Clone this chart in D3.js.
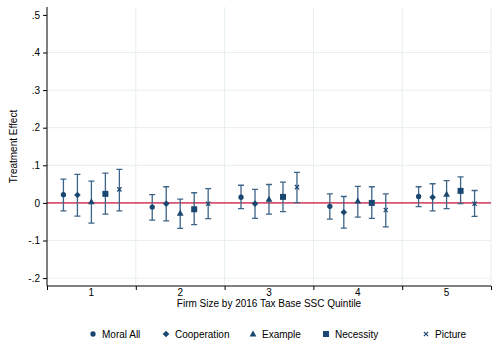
<!DOCTYPE html>
<html>
<head>
<meta charset="utf-8">
<script src="https://cdn.jsdelivr.net/npm/d3@7"></script>
<style>
  html, body { margin: 0; padding: 0; background: #fff; }
  svg { display: block; font-family: "Liberation Sans", Arial, sans-serif; }
</style>
</head>
<body>
<svg id="chart" width="496" height="347"></svg>
<script>
// Quintiles and treatment arms
const quintiles = [1, 2, 3, 4, 5];
const treatments = ["Moral All", "Cooperation", "Example", "Necessity", "Picture"];

// Point estimates, one array per treatment (index = quintile)
const moralAll    = [0.022, -0.011, 0.015, -0.009, 0.017];
const cooperation = [0.021, -0.002, -0.002, -0.025, 0.015];
const example     = [0.003, -0.027, 0.010, 0.005, 0.023];
const necessity   = [0.024, -0.017, 0.016, 0.000, 0.032];
const picture     = [0.036, -0.002, 0.042, -0.019, -0.002];

// Upper confidence bounds
const moralAllHi    = [0.063, 0.022, 0.047, 0.024, 0.043];
const cooperationHi = [0.076, 0.043, 0.036, 0.017, 0.051];
const exampleHi     = [0.058, 0.010, 0.049, 0.044, 0.059];
const necessityHi   = [0.079, 0.027, 0.055, 0.043, 0.069];
const pictureHi     = [0.089, 0.038, 0.081, 0.024, 0.033];

// Lower confidence bounds
const moralAllLo    = [-0.021, -0.046, -0.015, -0.043, -0.010];
const cooperationLo = [-0.035, -0.048, -0.041, -0.067, -0.021];
const exampleLo     = [-0.054, -0.068, -0.030, -0.038, -0.015];
const necessityLo   = [-0.030, -0.058, -0.023, -0.041, -0.002];
const pictureLo     = [-0.021, -0.042, 0.001, -0.064, -0.036];

const yTicks = [0.5, 0.4, 0.3, 0.2, 0.1, 0, -0.1, -0.2];
const yTickLabels = [".5", ".4", ".3", ".2", ".1", "0", "-.1", "-.2"];

const est = [moralAll, cooperation, example, necessity, picture];
const hi  = [moralAllHi, cooperationHi, exampleHi, necessityHi, pictureHi];
const lo  = [moralAllLo, cooperationLo, exampleLo, necessityLo, pictureLo];

const rows = [];
treatments.forEach((t, ti) => {
  quintiles.forEach((q, qi) => {
    rows.push({ t, ti, q, v: est[ti][qi], hi: hi[ti][qi], lo: lo[ti][qi] });
  });
});

const svg = d3.select("#chart");
const plotL = 47, plotR = 491, plotT = 7, plotB = 286;
const navy = "#1a476f";
const barColor = "#3d6489";
const fs = 10;

const x = d3.scaleLinear().domain([0.5, 5.5]).range([plotL, plotR]);
const y = d3.scaleLinear().domain([-0.221, 0.521]).range([plotB, plotT]);
const offset = d3.scalePoint().domain(treatments).range([-0.315, 0.315]);

// Grid
const grid = svg.append("g");
grid.selectAll("line.h").data(yTicks.filter(v => v !== 0 && v !== 0.5)).join("line")
  .attr("x1", plotL).attr("x2", plotR)
  .attr("y1", d => y(d)).attr("y2", d => y(d))
  .attr("stroke", "#e6eef1").attr("stroke-width", 1);
grid.selectAll("line.v").data([1.5, 2.5, 3.5, 4.5, 5.5]).join("line")
  .attr("x1", d => x(d)).attr("x2", d => x(d))
  .attr("y1", plotT).attr("y2", plotB)
  .attr("stroke", "#e6eef1").attr("stroke-width", 1);

// Zero reference line
svg.append("line")
  .attr("x1", plotL).attr("x2", plotR)
  .attr("y1", y(0)).attr("y2", y(0))
  .attr("stroke", "#d6546f").attr("stroke-width", 1.6);

// Axes
const yAxis = d3.axisLeft(y).tickValues(yTicks)
  .tickFormat((d, i) => yTickLabels[i]).tickSize(4).tickPadding(3);
const gy = svg.append("g").attr("transform", `translate(${plotL},0)`).call(yAxis);
gy.select(".domain").attr("d", `M0,${plotT}V${plotB}`).attr("stroke", "#000");
gy.selectAll("text").attr("font-size", fs).attr("fill", "#000")
  .attr("font-family", "Liberation Sans, Arial, sans-serif");

const xAxis = d3.axisBottom(x).tickValues([0.5, 1.5, 2.5, 3.5, 4.5, 5.5])
  .tickFormat("").tickSize(4);
const gx = svg.append("g").attr("transform", `translate(0,${plotB})`).call(xAxis);
gx.select(".domain").attr("d", `M${plotL},0H${plotR}`).attr("stroke", "#000");

svg.append("g").selectAll("text").data(quintiles).join("text")
  .attr("x", d => x(d)).attr("y", 296)
  .attr("text-anchor", "middle").attr("font-size", fs).text(d => d);

svg.append("text")
  .attr("x", (plotL + plotR) / 2).attr("y", 307)
  .attr("text-anchor", "middle").attr("font-size", fs)
  .text("Firm Size by 2016 Tax Base SSC Quintile");

svg.append("text")
  .attr("transform", `translate(17,${(plotT + plotB) / 2}) rotate(-90)`)
  .attr("text-anchor", "middle").attr("font-size", fs)
  .text("Treatment Effect");

// Confidence intervals
const px = d => x(d.q + offset(d.t));
const cap = 3;
const ci = svg.append("g").attr("stroke", barColor).attr("stroke-width", 1.3).attr("fill", "none");
ci.selectAll("path").data(rows).join("path")
  .attr("d", d => {
    const cx = px(d), yh = y(d.hi), yl = y(d.lo);
    return `M${cx},${yh}V${yl}M${cx - cap},${yh}H${cx + cap}M${cx - cap},${yl}H${cx + cap}`;
  });

// Markers: circle, diamond, triangle, square, x
function drawMarker(sel, ti) {
  let d;
  if (ti === 0) d = d3.symbol().type(d3.symbolCircle).size(22)();
  else if (ti === 1) d = "M0,-3.3L3.3,0L0,3.3L-3.3,0Z";
  else if (ti === 2) d = "M0,-3.4L3.4,2.6L-3.4,2.6Z";
  else if (ti === 3) d = "M-3,-3H3V3H-3Z";
  if (ti === 4) {
    const s = 2.1;
    sel.append("path")
      .attr("d", `M${-s},${-s}L${s},${s}M${-s},${s}L${s},${-s}`)
      .attr("stroke", navy).attr("stroke-width", 1.2).attr("fill", "none");
  } else {
    sel.append("path").attr("d", d).attr("fill", navy);
  }
}
svg.append("g").selectAll("g").data(rows).join("g")
  .attr("transform", d => `translate(${px(d)},${y(d.v)})`)
  .each(function(d) { drawMarker(d3.select(this), d.ti); });

// Legend
const legendX = [93, 166, 253, 326, 426];
const legend = svg.append("g");
treatments.forEach((t, i) => {
  const g = legend.append("g").attr("transform", `translate(${legendX[i]},334)`);
  drawMarker(g, i);
  g.append("text").attr("x", 9).attr("y", 3.6).attr("font-size", fs).text(t);
});
</script>
</body>
</html>
